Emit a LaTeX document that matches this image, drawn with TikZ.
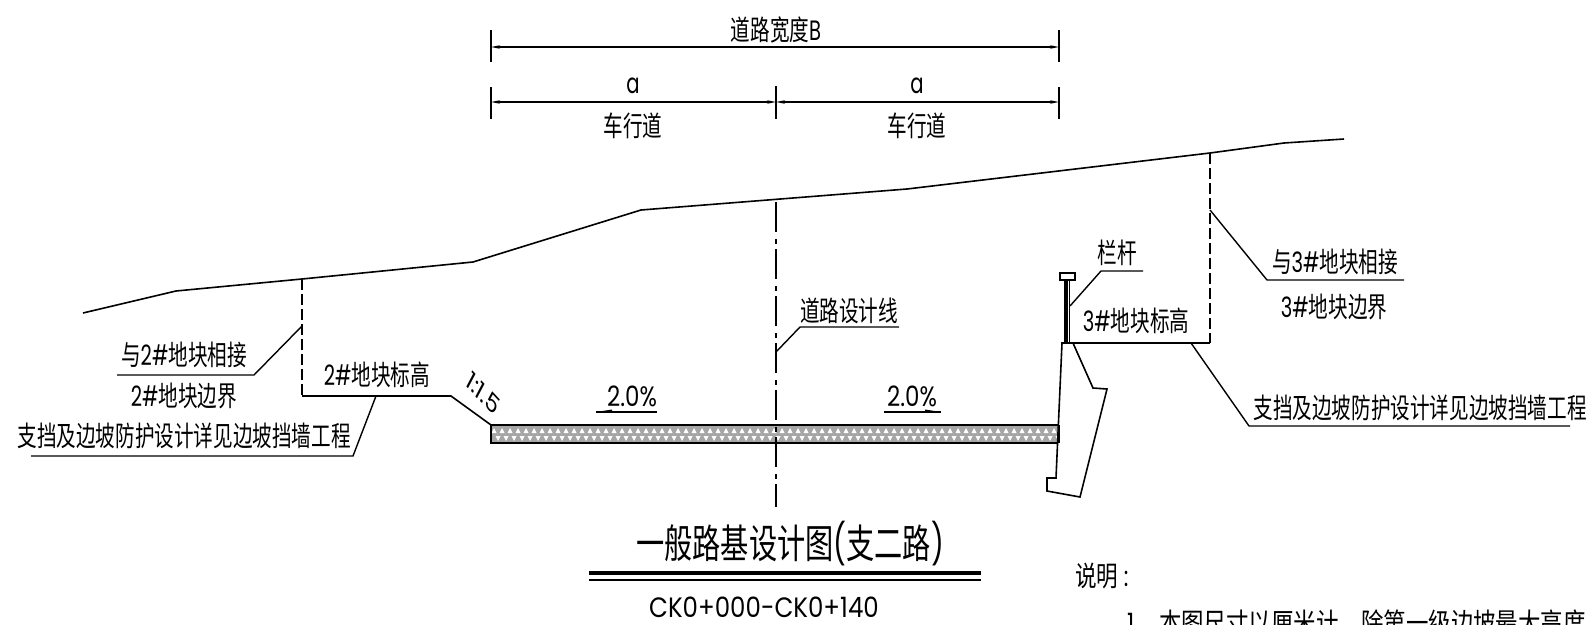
\documentclass[tikz,border=0pt]{standalone}
\usepackage{fontspec}
\setmainfont{Noto Sans CJK SC}
\newfontfamily\poppins{Poppins}
\newcommand{\latn}[1]{{\poppins #1}}
\usetikzlibrary{arrows.meta}
\tikzset{
  cad/.style={inner sep=0pt,outer sep=0pt,transform shape,xscale=.70,font=\fontsize{28}{28}\selectfont,text=black},
  big/.style={inner sep=0pt,outer sep=0pt,transform shape,xscale=.705,font=\fontsize{40}{40}\selectfont,text=black},
  ln/.style={draw=black,line width=1.6pt},
  thin line/.style={draw=black,line width=1.4pt},
  dim/.style={draw=black,line width=1.3pt,{Stealth[length=9pt,width=3.5pt]}-{Stealth[length=9pt,width=3.5pt]}},
  tick/.style={draw=black,line width=1.4pt},
  dashln/.style={draw=black,line width=1.5pt,dash pattern=on 11pt off 4pt},
  center line/.style={draw=black,line width=1.8pt,dash pattern=on 30pt off 7pt on 5pt off 5pt},
}
\begin{document}
\begin{tikzpicture}[x=1pt,y=-1pt]
\useasboundingbox (0,0) rectangle (1592,624);
\clip (0,0) rectangle (1592,624);
% ground
\coordinate (g0) at (83,313);\coordinate (g1) at (176,291);\coordinate (g2) at (302,279);
\coordinate (g3) at (473,262);\coordinate (g4) at (641,210);\coordinate (g5) at (907,189);
\coordinate (g6) at (1210,153);\coordinate (g7) at (1284,143);\coordinate (g8) at (1344,139);
\draw[ln] (g0)--(g1)--(g2)--(g3)--(g4)--(g5)--(g6)--(g7)--(g8);
% left platform
\coordinate (lc) at (302,396);\coordinate (ls) at (451,396);\coordinate (pl) at (491,425);
\draw[dashln] (g2)--(lc);
\draw[ln] (lc)--(ls)--(pl);
% pavement
\begin{scope}
\clip (491,425) rectangle (1059,443);
\fill[gray!70] (491,425) rectangle (1059,443);
\foreach \i in {0,...,72}{
  \pgfmathsetmacro{\xa}{491+8*\i}
  \fill[white] (\xa+.5,433)--(\xa+3,428)--(\xa+5.5,433)--cycle;
  \fill[white] (\xa+4.5,436)--(\xa+9.5,436)--(\xa+7,441)--cycle;
}
\end{scope}
\draw[draw=black,line width=2pt] (491,425) rectangle (1059,443);
% centre line
\coordinate (c0) at (776,202);\coordinate (c1) at (776,507);
\draw[center line] (c0)--(c1);
% top dims
\coordinate (d1) at (491,47);\coordinate (d2) at (1059,47);
\coordinate (e1) at (491,102);\coordinate (e2) at (776,102);\coordinate (e3) at (1059,102);
\draw[tick] (491,30)--(491,62);\draw[tick] (1059,30)--(1059,62);
\draw[tick] (491,87)--(491,119);\draw[tick,line width=1.7pt] (776,86)--(776,119);\draw[tick] (1059,87)--(1059,119);
\draw[dim] (d1)--(d2);\draw[dim] (e1)--(e2);\draw[dim] (e2)--(e3);
\node[cad] (tb) at (776,30) {道路宽度\latn{B}};
\node[cad] (ta1) at (633,86) {\latn{a}};
\node[cad] (ta2) at (917,86) {\latn{a}};
\node[cad] (tc1) at (633,126) {车行道};
\node[cad] (tc2) at (917,126) {车行道};
% left labels
\coordinate (l1a) at (302,326);\coordinate (l1b) at (254,375);\coordinate (l1c) at (117,375);
\draw[thin line] (l1a)--(l1b)--(l1c);
\coordinate (l2a) at (376,396);\coordinate (l2b) at (353,456);\coordinate (l2c) at (31,456);
\draw[thin line] (l2a)--(l2b)--(l2c);
\node[cad] (t1) at (184,355) {与\latn{2\#}地块相接};
\node[cad] (t2) at (184,396) {\latn{2\#}地块边界};
\node[cad] (t3) at (184,436) {支挡及边坡防护设计详见边坡挡墙工程};
\node[cad] (t4) at (377,375) {\latn{2\#}地块标高};
\node[cad,rotate=-37,xscale=1.25,font=\fontsize{25}{25}\selectfont] (t5) at (483,393) {\latn{1:1.5}};
% slopes
\node[cad,xscale=1.17] (p1) at (632,396) {\latn{2.0\%}};
\node[cad,xscale=1.17] (p2) at (912,396) {\latn{2.0\%}};
\coordinate (a1) at (596,412);\coordinate (a2) at (657,412);
\coordinate (b1) at (884,412);\coordinate (b2) at (941,412);
\draw[thin line] (a1)--(a2);\draw[thin line] (b1)--(b2);
\fill (a1)--(612,409.5)--(612,412)--cycle;
\fill (b2)--(925,409.5)--(925,412)--cycle;
% design line
\coordinate (k0) at (776,352);\coordinate (k1) at (800,327);\coordinate (k2) at (899,327);
\draw[thin line] (k0)--(k1)--(k2);
\node[cad] (t6) at (849,311) {道路设计线};
% wall
\coordinate (w0) at (1062,343);\coordinate (w1) at (1073,343);\coordinate (w2) at (1093,388);\coordinate (w3) at (1107,389);
\coordinate (w4) at (1080,497);\coordinate (w5) at (1047,491);\coordinate (w6) at (1047,478);\coordinate (w7) at (1056,478);
\draw[ln,fill=white] (w0)--(w1)--(w2)--(w3)--(w4)--(w5)--(w6)--(w7)--cycle;
\draw[draw=black,line width=2pt] (1059,425)--(1059,443);
% railing
\draw[ln] (1060,273) rectangle (1075,280);
\draw[draw=black,line width=1.7pt] (1065,280)--(1065,343) (1067.3,280)--(1067.3,343) (1069.6,280)--(1069.6,343);
\coordinate (r0) at (1070,306);\coordinate (r1) at (1101,271);\coordinate (r2) at (1143,271);
\draw[thin line] (r0)--(r1)--(r2);
\node[cad] (t7) at (1117,253) {栏杆};
% right platform
\coordinate (rc) at (1210,343);
\draw[dashln] (g6)--(rc);
\draw[ln] (w1)--(rc);
\coordinate (m0) at (1210,210);\coordinate (m1) at (1267,280);\coordinate (m2) at (1404,280);
\draw[thin line] (m0)--(m1)--(m2);
\coordinate (n0) at (1191,343);\coordinate (n1) at (1249,426);\coordinate (n2) at (1570,426);
\draw[thin line] (n0)--(n1)--(n2);
\node[cad] (t8) at (1335,262) {与\latn{3\#}地块相接};
\node[cad] (t9) at (1334,307) {\latn{3\#}地块边界};
\node[cad] (t10) at (1136,321) {\latn{3\#}地块标高};
\node[cad] (t11) at (1420,408) {支挡及边坡防护设计详见边坡挡墙工程};
% title
\node[big] (title) at (790,544) {一般路基设计图\latn{(}支二路\latn{)}};
\coordinate (u0) at (589,573);\coordinate (u1) at (981,573);\coordinate (v0) at (589,580);\coordinate (v1) at (981,580);
\draw[draw=black,line width=3.2pt] (u0)--(u1);
\draw[draw=black,line width=1.3pt] (v0)--(v1);
\node[cad,xscale=1.25] (sub) at (764,607) {\latn{CK0+000-CK0+140}};
\node[cad,anchor=west,xscale=1.1] (sm) at (1075,576) {说明\latn{ :}};
\node[cad,anchor=west,xscale=1.146] (note) at (1127,623) {\latn{1}、\hspace{3pt}本图尺寸以厘米计，除第一级边坡最大高度};
\end{tikzpicture}
\end{document}
